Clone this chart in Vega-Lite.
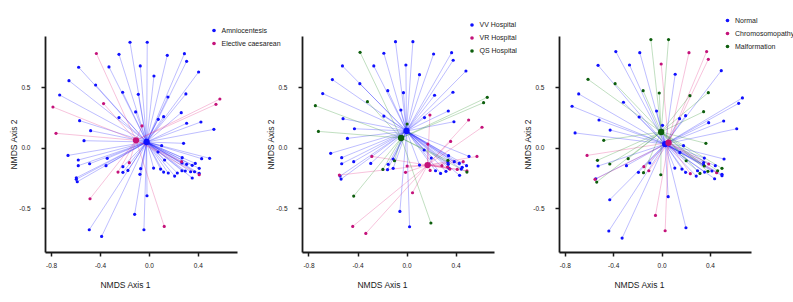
{
  "$schema": "https://vega.github.io/schema/vega-lite/v6.json",
  "padding": {"left": 9, "top": 17, "right": 5, "bottom": 5},
  "spacing": 65,
  "bounds": "flush",
  "datasets": {
    "p1": [
      {"x": -0.155, "y": 0.873, "g": "Amniocentesis"}, {"x": -0.014, "y": 0.873, "g": "Amniocentesis"}, {"x": -0.245, "y": 0.773, "g": "Amniocentesis"}, {"x": 0.15, "y": 0.765, "g": "Amniocentesis"}, {"x": 0.29, "y": 0.779, "g": "Amniocentesis"}, {"x": 0.308, "y": 0.715, "g": "Amniocentesis"}, {"x": -0.575, "y": 0.666, "g": "Amniocentesis"}, {"x": -0.327, "y": 0.669, "g": "Amniocentesis"}, {"x": -0.071, "y": 0.677, "g": "Amniocentesis"}, {"x": 0.406, "y": 0.627, "g": "Amniocentesis"}, {"x": 0.041, "y": 0.594, "g": "Amniocentesis"}, {"x": -0.654, "y": 0.555, "g": "Amniocentesis"}, {"x": -0.436, "y": 0.519, "g": "Amniocentesis"}, {"x": -0.215, "y": 0.459, "g": "Amniocentesis"}, {"x": -0.087, "y": 0.442, "g": "Amniocentesis"}, {"x": 0.302, "y": 0.445, "g": "Amniocentesis"}, {"x": -0.73, "y": 0.436, "g": "Amniocentesis"}, {"x": 0.155, "y": 0.42, "g": "Amniocentesis"}, {"x": -0.109, "y": 0.296, "g": "Amniocentesis"}, {"x": 0.264, "y": 0.29, "g": "Amniocentesis"}, {"x": 0.12, "y": 0.257, "g": "Amniocentesis"}, {"x": -0.245, "y": 0.249, "g": "Amniocentesis"}, {"x": 0.076, "y": 0.235, "g": "Amniocentesis"}, {"x": -0.567, "y": 0.224, "g": "Amniocentesis"}, {"x": 0.425, "y": 0.213, "g": "Amniocentesis"}, {"x": 0.308, "y": 0.202, "g": "Amniocentesis"}, {"x": -0.477, "y": 0.141, "g": "Amniocentesis"}, {"x": 0.531, "y": 0.152, "g": "Amniocentesis"}, {"x": -0.531, "y": 0.058, "g": "Amniocentesis"}, {"x": 0.283, "y": 0.036, "g": "Amniocentesis"}, {"x": 0.104, "y": 0.017, "g": "Amniocentesis"}, {"x": -0.662, "y": -0.064, "g": "Amniocentesis"}, {"x": -0.578, "y": -0.102, "g": "Amniocentesis"}, {"x": -0.578, "y": -0.149, "g": "Amniocentesis"}, {"x": -0.485, "y": -0.133, "g": "Amniocentesis"}, {"x": -0.341, "y": -0.088, "g": "Amniocentesis"}, {"x": -0.351, "y": -0.149, "g": "Amniocentesis"}, {"x": 0.074, "y": -0.036, "g": "Amniocentesis"}, {"x": 0.128, "y": -0.102, "g": "Amniocentesis"}, {"x": 0.272, "y": -0.083, "g": "Amniocentesis"}, {"x": 0.431, "y": -0.091, "g": "Amniocentesis"}, {"x": 0.496, "y": -0.088, "g": "Amniocentesis"}, {"x": 0.27, "y": -0.127, "g": "Amniocentesis"}, {"x": 0.308, "y": -0.138, "g": "Amniocentesis"}, {"x": 0.354, "y": -0.146, "g": "Amniocentesis"}, {"x": 0.379, "y": -0.13, "g": "Amniocentesis"}, {"x": 0.411, "y": -0.171, "g": "Amniocentesis"}, {"x": -0.213, "y": -0.157, "g": "Amniocentesis"}, {"x": -0.213, "y": -0.204, "g": "Amniocentesis"}, {"x": -0.172, "y": -0.188, "g": "Amniocentesis"}, {"x": -0.068, "y": -0.174, "g": "Amniocentesis"}, {"x": 0.038, "y": -0.169, "g": "Amniocentesis"}, {"x": 0.095, "y": -0.177, "g": "Amniocentesis"}, {"x": 0.12, "y": -0.202, "g": "Amniocentesis"}, {"x": 0.158, "y": -0.21, "g": "Amniocentesis"}, {"x": 0.21, "y": -0.235, "g": "Amniocentesis"}, {"x": 0.232, "y": -0.21, "g": "Amniocentesis"}, {"x": 0.27, "y": -0.191, "g": "Amniocentesis"}, {"x": 0.297, "y": -0.193, "g": "Amniocentesis"}, {"x": 0.341, "y": -0.199, "g": "Amniocentesis"}, {"x": 0.373, "y": -0.199, "g": "Amniocentesis"}, {"x": 0.411, "y": -0.213, "g": "Amniocentesis"}, {"x": 0.354, "y": -0.251, "g": "Amniocentesis"}, {"x": -0.074, "y": -0.221, "g": "Amniocentesis"}, {"x": -0.594, "y": -0.249, "g": "Amniocentesis"}, {"x": -0.594, "y": -0.262, "g": "Amniocentesis"}, {"x": -0.586, "y": -0.282, "g": "Amniocentesis"}, {"x": -0.016, "y": -0.398, "g": "Amniocentesis"}, {"x": -0.117, "y": -0.552, "g": "Amniocentesis"}, {"x": -0.041, "y": -0.68, "g": "Amniocentesis"}, {"x": -0.488, "y": -0.68, "g": "Amniocentesis"}, {"x": -0.387, "y": -0.735, "g": "Amniocentesis"},
      {"x": -0.43, "y": 0.78, "g": "Elective caesarean"}, {"x": -0.371, "y": 0.365, "g": "Elective caesarean"}, {"x": 0.58, "y": 0.403, "g": "Elective caesarean"}, {"x": 0.548, "y": 0.359, "g": "Elective caesarean"}, {"x": -0.785, "y": 0.337, "g": "Elective caesarean"}, {"x": -0.057, "y": 0.18, "g": "Elective caesarean"}, {"x": -0.76, "y": 0.119, "g": "Elective caesarean"}, {"x": 0.267, "y": -0.116, "g": "Elective caesarean"}, {"x": -0.161, "y": -0.124, "g": "Elective caesarean"}, {"x": -0.253, "y": -0.202, "g": "Elective caesarean"}, {"x": 0.411, "y": -0.224, "g": "Elective caesarean"}, {"x": -0.482, "y": -0.423, "g": "Elective caesarean"}, {"x": 0.125, "y": -0.652, "g": "Elective caesarean"}
    ],
    "c1": [
      {"x": -0.019, "y": 0.047, "g": "Amniocentesis"},
      {"x": -0.106, "y": 0.061, "g": "Elective caesarean"}
    ],
    "p2": [
      {"x": -0.09, "y": 0.878, "g": "VV Hospital"}, {"x": 0.052, "y": 0.878, "g": "VV Hospital"}, {"x": -0.185, "y": 0.782, "g": "VV Hospital"}, {"x": 0.221, "y": 0.776, "g": "VV Hospital"}, {"x": 0.368, "y": 0.787, "g": "VV Hospital"}, {"x": 0.381, "y": 0.724, "g": "VV Hospital"}, {"x": -0.523, "y": 0.677, "g": "VV Hospital"}, {"x": -0.267, "y": 0.677, "g": "VV Hospital"}, {"x": -0.005, "y": 0.685, "g": "VV Hospital"}, {"x": 0.485, "y": 0.635, "g": "VV Hospital"}, {"x": 0.106, "y": 0.605, "g": "VV Hospital"}, {"x": -0.605, "y": 0.564, "g": "VV Hospital"}, {"x": -0.381, "y": 0.53, "g": "VV Hospital"}, {"x": -0.153, "y": 0.472, "g": "VV Hospital"}, {"x": -0.025, "y": 0.456, "g": "VV Hospital"}, {"x": 0.379, "y": 0.459, "g": "VV Hospital"}, {"x": -0.684, "y": 0.448, "g": "VV Hospital"}, {"x": 0.229, "y": 0.434, "g": "VV Hospital"}, {"x": -0.046, "y": 0.312, "g": "VV Hospital"}, {"x": 0.341, "y": 0.304, "g": "VV Hospital"}, {"x": -0.185, "y": 0.262, "g": "VV Hospital"}, {"x": 0.147, "y": 0.249, "g": "VV Hospital"}, {"x": -0.518, "y": 0.24, "g": "VV Hospital"}, {"x": 0.387, "y": 0.215, "g": "VV Hospital"}, {"x": -0.425, "y": 0.157, "g": "VV Hospital"}, {"x": -0.482, "y": 0.077, "g": "VV Hospital"}, {"x": -0.619, "y": -0.047, "g": "VV Hospital"}, {"x": -0.529, "y": -0.083, "g": "VV Hospital"}, {"x": -0.529, "y": -0.133, "g": "VV Hospital"}, {"x": -0.431, "y": -0.116, "g": "VV Hospital"}, {"x": -0.292, "y": -0.13, "g": "VV Hospital"}, {"x": -0.15, "y": -0.138, "g": "VV Hospital"}, {"x": -0.109, "y": -0.094, "g": "VV Hospital"}, {"x": -0.155, "y": -0.182, "g": "VV Hospital"}, {"x": -0.109, "y": -0.171, "g": "VV Hospital"}, {"x": 0.144, "y": -0.019, "g": "VV Hospital"}, {"x": 0.106, "y": -0.144, "g": "VV Hospital"}, {"x": 0.202, "y": -0.086, "g": "VV Hospital"}, {"x": 0.343, "y": -0.066, "g": "VV Hospital"}, {"x": 0.51, "y": -0.072, "g": "VV Hospital"}, {"x": 0.39, "y": -0.116, "g": "VV Hospital"}, {"x": 0.431, "y": -0.13, "g": "VV Hospital"}, {"x": 0.338, "y": -0.122, "g": "VV Hospital"}, {"x": 0.341, "y": -0.138, "g": "VV Hospital"}, {"x": 0.455, "y": -0.163, "g": "VV Hospital"}, {"x": 0.447, "y": -0.177, "g": "VV Hospital"}, {"x": 0.49, "y": -0.149, "g": "VV Hospital"}, {"x": 0.237, "y": -0.191, "g": "VV Hospital"}, {"x": 0.278, "y": -0.213, "g": "VV Hospital"}, {"x": 0.322, "y": -0.196, "g": "VV Hospital"}, {"x": 0.346, "y": -0.171, "g": "VV Hospital"}, {"x": 0.433, "y": -0.229, "g": "VV Hospital"}, {"x": -0.542, "y": -0.235, "g": "VV Hospital"}, {"x": -0.534, "y": -0.26, "g": "VV Hospital"}, {"x": -0.054, "y": -0.528, "g": "VV Hospital"}, {"x": 0.025, "y": -0.655, "g": "VV Hospital"},
      {"x": 0.191, "y": 0.271, "g": "VR Hospital"}, {"x": 0.507, "y": 0.229, "g": "VR Hospital"}, {"x": 0.616, "y": 0.169, "g": "VR Hospital"}, {"x": 0.36, "y": 0.052, "g": "VR Hospital"}, {"x": 0.174, "y": 0.03, "g": "VR Hospital"}, {"x": 0.575, "y": -0.072, "g": "VR Hospital"}, {"x": -0.283, "y": -0.072, "g": "VR Hospital"}, {"x": 0.463, "y": -0.116, "g": "VR Hospital"}, {"x": 0.289, "y": -0.149, "g": "VR Hospital"}, {"x": 0.335, "y": -0.16, "g": "VR Hospital"}, {"x": 0.354, "y": -0.177, "g": "VR Hospital"}, {"x": 0.414, "y": -0.18, "g": "VR Hospital"}, {"x": 0.493, "y": -0.191, "g": "VR Hospital"}, {"x": 0.193, "y": -0.188, "g": "VR Hospital"}, {"x": 0.005, "y": -0.152, "g": "VR Hospital"}, {"x": -0.008, "y": -0.204, "g": "VR Hospital"}, {"x": -0.548, "y": -0.227, "g": "VR Hospital"}, {"x": 0.049, "y": -0.373, "g": "VR Hospital"}, {"x": -0.439, "y": -0.652, "g": "VR Hospital"}, {"x": -0.332, "y": -0.71, "g": "VR Hospital"},
      {"x": -0.379, "y": 0.79, "g": "QS Hospital"}, {"x": -0.319, "y": 0.381, "g": "QS Hospital"}, {"x": -0.744, "y": 0.348, "g": "QS Hospital"}, {"x": 0.659, "y": 0.417, "g": "QS Hospital"}, {"x": 0.629, "y": 0.373, "g": "QS Hospital"}, {"x": -0.719, "y": 0.135, "g": "QS Hospital"}, {"x": 0.005, "y": 0.196, "g": "QS Hospital"}, {"x": -0.098, "y": -0.108, "g": "QS Hospital"}, {"x": -0.193, "y": -0.18, "g": "QS Hospital"}, {"x": 0.338, "y": -0.105, "g": "QS Hospital"}, {"x": 0.493, "y": -0.202, "g": "QS Hospital"}, {"x": -0.431, "y": -0.401, "g": "QS Hospital"}, {"x": 0.199, "y": -0.624, "g": "QS Hospital"}
    ],
    "c2": [
      {"x": 0.0, "y": 0.138, "g": "VV Hospital"},
      {"x": 0.172, "y": -0.144, "g": "VR Hospital"},
      {"x": -0.044, "y": 0.08, "g": "QS Hospital"}
    ],
    "p3": [
      {"x": -0.378, "y": 0.796, "g": "Normal"}, {"x": -0.18, "y": 0.787, "g": "Normal"}, {"x": -0.525, "y": 0.682, "g": "Normal"}, {"x": -0.265, "y": 0.685, "g": "Normal"}, {"x": 0.494, "y": 0.638, "g": "Normal"}, {"x": 0.113, "y": 0.608, "g": "Normal"}, {"x": -0.685, "y": 0.445, "g": "Normal"}, {"x": -0.315, "y": 0.376, "g": "Normal"}, {"x": -0.74, "y": 0.343, "g": "Normal"}, {"x": 0.669, "y": 0.412, "g": "Normal"}, {"x": 0.638, "y": 0.367, "g": "Normal"}, {"x": -0.041, "y": 0.304, "g": "Normal"}, {"x": -0.185, "y": 0.254, "g": "Normal"}, {"x": 0.199, "y": 0.265, "g": "Normal"}, {"x": 0.149, "y": 0.24, "g": "Normal"}, {"x": -0.517, "y": 0.229, "g": "Normal"}, {"x": 0.39, "y": 0.207, "g": "Normal"}, {"x": 0.514, "y": 0.221, "g": "Normal"}, {"x": -0.425, "y": 0.146, "g": "Normal"}, {"x": 0.622, "y": 0.157, "g": "Normal"}, {"x": -0.715, "y": 0.122, "g": "Normal"}, {"x": 0.008, "y": 0.185, "g": "Normal"}, {"x": 0.182, "y": 0.017, "g": "Normal"}, {"x": 0.152, "y": -0.039, "g": "Normal"}, {"x": -0.525, "y": -0.152, "g": "Normal"}, {"x": -0.29, "y": -0.149, "g": "Normal"}, {"x": -0.097, "y": -0.127, "g": "Normal"}, {"x": -0.191, "y": -0.204, "g": "Normal"}, {"x": 0.11, "y": -0.169, "g": "Normal"}, {"x": 0.169, "y": -0.177, "g": "Normal"}, {"x": 0.199, "y": -0.204, "g": "Normal"}, {"x": 0.287, "y": -0.235, "g": "Normal"}, {"x": 0.298, "y": -0.191, "g": "Normal"}, {"x": 0.354, "y": -0.086, "g": "Normal"}, {"x": 0.348, "y": -0.124, "g": "Normal"}, {"x": 0.348, "y": -0.141, "g": "Normal"}, {"x": 0.517, "y": -0.094, "g": "Normal"}, {"x": 0.445, "y": -0.149, "g": "Normal"}, {"x": 0.417, "y": -0.193, "g": "Normal"}, {"x": 0.439, "y": -0.257, "g": "Normal"}, {"x": 0.5, "y": -0.221, "g": "Normal"}, {"x": 0.5, "y": -0.232, "g": "Normal"}, {"x": 0.356, "y": -0.202, "g": "Normal"}, {"x": -0.544, "y": -0.257, "g": "Normal"}, {"x": -0.428, "y": -0.431, "g": "Normal"}, {"x": 0.055, "y": -0.406, "g": "Normal"}, {"x": -0.436, "y": -0.69, "g": "Normal"}, {"x": -0.326, "y": -0.749, "g": "Normal"}, {"x": 0.202, "y": -0.663, "g": "Normal"},
      {"x": 0.227, "y": 0.787, "g": "Chromosomopathy"}, {"x": 0.373, "y": 0.796, "g": "Chromosomopathy"}, {"x": 0.387, "y": 0.732, "g": "Chromosomopathy"}, {"x": -0.003, "y": 0.693, "g": "Chromosomopathy"}, {"x": -0.616, "y": -0.064, "g": "Chromosomopathy"}, {"x": 0.39, "y": -0.135, "g": "Chromosomopathy"}, {"x": 0.456, "y": -0.207, "g": "Chromosomopathy"}, {"x": 0.238, "y": -0.215, "g": "Chromosomopathy"}, {"x": -0.146, "y": -0.157, "g": "Chromosomopathy"}, {"x": -0.105, "y": -0.191, "g": "Chromosomopathy"}, {"x": -0.55, "y": -0.262, "g": "Chromosomopathy"}, {"x": -0.05, "y": -0.561, "g": "Chromosomopathy"}, {"x": 0.03, "y": -0.688, "g": "Chromosomopathy"},
      {"x": -0.088, "y": 0.895, "g": "Malformation"}, {"x": 0.058, "y": 0.895, "g": "Malformation"}, {"x": -0.608, "y": 0.566, "g": "Malformation"}, {"x": -0.384, "y": 0.53, "g": "Malformation"}, {"x": -0.152, "y": 0.472, "g": "Malformation"}, {"x": -0.019, "y": 0.453, "g": "Malformation"}, {"x": 0.235, "y": 0.431, "g": "Malformation"}, {"x": 0.387, "y": 0.456, "g": "Malformation"}, {"x": 0.348, "y": 0.298, "g": "Malformation"}, {"x": -0.478, "y": 0.061, "g": "Malformation"}, {"x": 0.367, "y": 0.036, "g": "Malformation"}, {"x": -0.53, "y": -0.105, "g": "Malformation"}, {"x": -0.428, "y": -0.135, "g": "Malformation"}, {"x": -0.276, "y": -0.091, "g": "Malformation"}, {"x": 0.204, "y": -0.108, "g": "Malformation"}, {"x": -0.149, "y": -0.207, "g": "Malformation"}, {"x": -0.006, "y": -0.224, "g": "Malformation"}, {"x": -0.536, "y": -0.285, "g": "Malformation"}, {"x": 0.318, "y": -0.213, "g": "Malformation"}, {"x": 0.384, "y": -0.196, "g": "Malformation"}, {"x": 0.464, "y": -0.191, "g": "Malformation"}, {"x": 0.5, "y": -0.171, "g": "Malformation"}, {"x": 0.354, "y": -0.152, "g": "Malformation"}
    ],
    "c3": [
      {"x": 0.03, "y": 0.03, "g": "Normal"},
      {"x": 0.058, "y": 0.041, "g": "Chromosomopathy"},
      {"x": -0.003, "y": 0.13, "g": "Malformation"}
    ]
  },
  "hconcat": [
    {
      "width": 192, "height": 216,
      "encoding": {
        "x": {"field": "x", "type": "quantitative", "scale": {"domain": [-0.85, 0.72], "nice": false, "zero": false},
              "axis": {"values": [-0.8, -0.4, 0, 0.4], "labelExpr": "replace(format(datum.value, '.1f'), '\u2212', '-')", "title": "NMDS Axis 1", "labelPadding": 6, "titleX": 80, "titleY": 32, "titleAlign": "center", "titleBaseline": "middle"}},
        "y": {"field": "y", "type": "quantitative", "scale": {"domain": [-0.864, 0.925], "nice": false, "zero": false},
              "axis": {"values": [-0.5, 0, 0.5], "labelExpr": "replace(format(datum.value, '.1f'), '\u2212', '-')", "title": "NMDS Axis 2", "labelPadding": 11, "titleX": -32, "titleY": 108, "titleAlign": "center", "titleBaseline": "middle"}}
      },
      "layer": [
        {"data": {"name": "p1"},
         "transform": [{"lookup": "g", "from": {"data": {"name": "c1"}, "key": "g", "fields": ["x", "y"]}, "as": ["cx", "cy"]}],
         "mark": {"type": "rule", "strokeWidth": 0.9, "opacity": 0.3},
         "encoding": {"x2": {"field": "cx"}, "y2": {"field": "cy"},
                      "stroke": {"field": "g", "type": "nominal", "scale": {"domain": ["Elective caesarean", "Amniocentesis"], "range": ["#e0207f", "#1010ff"]}, "legend": null}}},
        {"data": {"name": "p1"},
         "mark": {"type": "point", "filled": true, "size": 10, "opacity": 1},
         "encoding": {"color": {"field": "g", "type": "nominal", "scale": {"domain": ["Amniocentesis", "Elective caesarean"], "range": ["#1010ff", "#c4127a"]},
                                "legend": {"orient": "none", "legendX": 165.5, "legendY": -9, "title": null, "symbolType": "circle", "symbolSize": 13, "labelFontSize": 7, "labelOffset": 4, "rowPadding": 5, "padding": 0, "labelColor": "#1a1a1a"}}}},
        {"data": {"name": "c1"},
         "mark": {"type": "point", "filled": true, "size": 40, "opacity": 1},
         "encoding": {"fill": {"field": "g", "type": "nominal", "scale": {"domain": ["Elective caesarean", "Amniocentesis"], "range": ["#c4127a", "#1010ff"]}, "legend": null}}}
      ]
    },
    {
      "width": 192, "height": 216,
      "encoding": {
        "x": {"field": "x", "type": "quantitative", "scale": {"domain": [-0.853, 0.714], "nice": false, "zero": false},
              "axis": {"values": [-0.8, -0.4, 0, 0.4], "labelExpr": "replace(format(datum.value, '.1f'), '\u2212', '-')", "title": "NMDS Axis 1", "labelPadding": 6, "titleX": 80, "titleY": 32, "titleAlign": "center", "titleBaseline": "middle"}},
        "y": {"field": "y", "type": "quantitative", "scale": {"domain": [-0.864, 0.925], "nice": false, "zero": false},
              "axis": {"values": [-0.5, 0, 0.5], "labelExpr": "replace(format(datum.value, '.1f'), '\u2212', '-')", "title": "NMDS Axis 2", "labelPadding": 11, "titleX": -32, "titleY": 108, "titleAlign": "center", "titleBaseline": "middle"}}
      },
      "layer": [
        {"data": {"name": "p2"},
         "transform": [{"lookup": "g", "from": {"data": {"name": "c2"}, "key": "g", "fields": ["x", "y"]}, "as": ["cx", "cy"]}],
         "mark": {"type": "rule", "strokeWidth": 0.9, "opacity": 0.3},
         "encoding": {"x2": {"field": "cx"}, "y2": {"field": "cy"},
                      "stroke": {"field": "g", "type": "nominal", "scale": {"domain": ["QS Hospital", "VR Hospital", "VV Hospital"], "range": ["#1a8a1a", "#e0207f", "#1010ff"]}, "legend": null}}},
        {"data": {"name": "p2"},
         "mark": {"type": "point", "filled": true, "size": 10, "opacity": 1},
         "encoding": {"color": {"field": "g", "type": "nominal", "scale": {"domain": ["VV Hospital", "VR Hospital", "QS Hospital"], "range": ["#1010ff", "#c4127a", "#0d5e0d"]},
                                "legend": {"orient": "none", "legendX": 166.5, "legendY": -14.5, "title": null, "symbolType": "circle", "symbolSize": 13, "labelFontSize": 7, "labelOffset": 4, "rowPadding": 5, "padding": 0, "labelColor": "#1a1a1a"}}}},
        {"data": {"name": "c2"},
         "mark": {"type": "point", "filled": true, "size": 40, "opacity": 1},
         "encoding": {"fill": {"field": "g", "type": "nominal", "scale": {"domain": ["QS Hospital", "VR Hospital", "VV Hospital"], "range": ["#0d5e0d", "#c4127a", "#1010ff"]}, "legend": null}}}
      ]
    },
    {
      "width": 192, "height": 216,
      "encoding": {
        "x": {"field": "x", "type": "quantitative", "scale": {"domain": [-0.848, 0.74], "nice": false, "zero": false},
              "axis": {"values": [-0.8, -0.4, 0, 0.4], "labelExpr": "replace(format(datum.value, '.1f'), '\u2212', '-')", "title": "NMDS Axis 1", "labelPadding": 6, "titleX": 80, "titleY": 32, "titleAlign": "center", "titleBaseline": "middle"}},
        "y": {"field": "y", "type": "quantitative", "scale": {"domain": [-0.864, 0.925], "nice": false, "zero": false},
              "axis": {"values": [-0.5, 0, 0.5], "labelExpr": "replace(format(datum.value, '.1f'), '\u2212', '-')", "title": "NMDS Axis 2", "labelPadding": 11, "titleX": -32, "titleY": 108, "titleAlign": "center", "titleBaseline": "middle"}}
      },
      "layer": [
        {"data": {"name": "p3"},
         "transform": [{"lookup": "g", "from": {"data": {"name": "c3"}, "key": "g", "fields": ["x", "y"]}, "as": ["cx", "cy"]}],
         "mark": {"type": "rule", "strokeWidth": 0.9, "opacity": 0.3},
         "encoding": {"x2": {"field": "cx"}, "y2": {"field": "cy"},
                      "stroke": {"field": "g", "type": "nominal", "scale": {"domain": ["Malformation", "Chromosomopathy", "Normal"], "range": ["#1a8a1a", "#e0207f", "#1010ff"]}, "legend": null}}},
        {"data": {"name": "p3"},
         "mark": {"type": "point", "filled": true, "size": 10, "opacity": 1},
         "encoding": {"color": {"field": "g", "type": "nominal", "scale": {"domain": ["Normal", "Chromosomopathy", "Malformation"], "range": ["#1010ff", "#c4127a", "#0d5e0d"]},
                                "legend": {"orient": "none", "legendX": 165, "legendY": -19, "title": null, "symbolType": "circle", "symbolSize": 13, "labelFontSize": 7, "labelOffset": 4, "rowPadding": 5, "padding": 0, "labelColor": "#1a1a1a"}}}},
        {"data": {"name": "c3"},
         "mark": {"type": "point", "filled": true, "size": 40, "opacity": 1},
         "encoding": {"fill": {"field": "g", "type": "nominal", "scale": {"domain": ["Malformation", "Chromosomopathy", "Normal"], "range": ["#0d5e0d", "#c4127a", "#1010ff"]}, "legend": null}}}
      ]
    }
  ],
  "resolve": {"scale": {"color": "independent", "stroke": "independent", "fill": "independent", "x": "independent", "y": "independent"}, "legend": {"color": "independent"}},
  "config": {
    "font": "Liberation Sans",
    "view": {"stroke": null},
    "axis": {"grid": false, "domainColor": "#1a1a1a", "domainWidth": 1.8, "tickColor": "#1a1a1a", "tickWidth": 1.5, "tickSize": 4, "labelFontSize": 6.5, "labelColor": "#1a1a1a", "titleFontSize": 8.5, "titleFontWeight": "normal", "titleColor": "#1a1a1a"}
  }
}
